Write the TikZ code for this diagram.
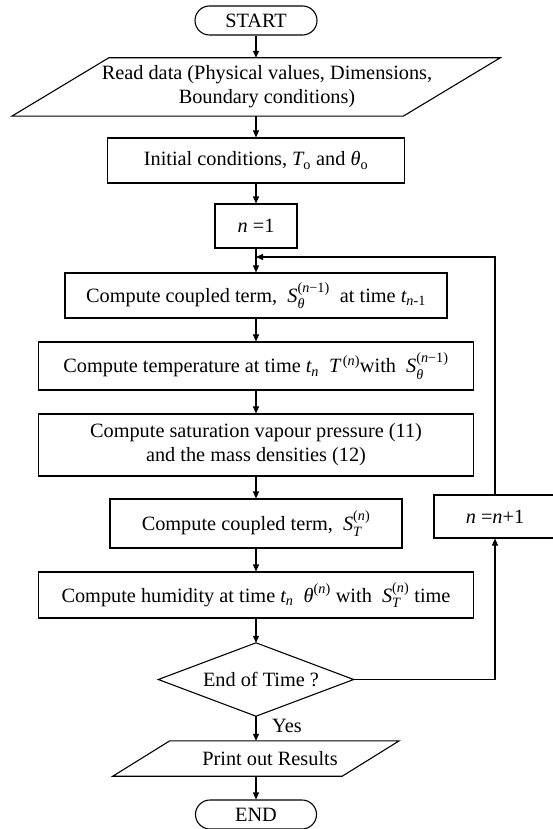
\documentclass[tikz,border=0pt]{standalone}
\usepackage{amsmath}
\usepackage{fontspec}
\setmainfont{Liberation Serif}
\usetikzlibrary{arrows.meta}
\newcommand{\fs}{\fontsize{20.3}{24}\selectfont}
\newcommand{\ti}[1]{\textit{#1}}
\newcommand{\tr}[1]{\textrm{#1}}
\begin{document}
\begin{tikzpicture}[x=1pt,y=-1pt,
  every node/.style={font=\fs, align=center, inner sep=0pt, text=black},
  box/.style={draw=black, line width=1.1pt},
  ln/.style={line width=1.1pt, draw=black},
  arr/.style={ln, -{Triangle[length=7pt,width=6pt]}}]
\useasboundingbox (0,0) rectangle (552,829);
% terminals and boxes
\node[box, rounded corners=14.5pt, minimum width=122pt, minimum height=29pt] (start) at (256,20.5) {START};
\node[minimum width=488pt, minimum height=58pt] (read) at (256,87)
  {\hspace*{22pt}Read data (Physical values, Dimensions,\\ \hspace*{22pt}Boundary conditions)};
\draw[ln] ([xshift=97pt]read.north west) -- (read.north east) -- ([xshift=-97pt]read.south east) -- (read.south west) -- cycle;
\node[box, minimum width=297pt, minimum height=45pt] (init) at (256,160.5)
  {Initial conditions, $\ti{T}_{\tr{o}}$ and $\ti{θ}_{\tr{o}}$};
\node[box, minimum width=82pt, minimum height=44pt] (n1) at (256,226) {\ti{n} =1};
\node[box, minimum width=382pt, minimum height=45pt] (cpl) at (256,295.5)
  {Compute coupled term,\enspace $\ti{S}^{\tr{(}\ti{n}\tr{−1)}}_{\ti{θ}}$\enspace at time $\ti{t}_{\ti{n}\tr{-1}}$};
\node[box, minimum width=435pt, minimum height=48pt] (temp) at (256,366)
  {Compute temperature at time $\ti{t}_{\ti{n}}$\enspace $\ti{T}^{\,\tr{(}\ti{n}\tr{)}}$with\enspace $\ti{S}^{\tr{(}\ti{n}\tr{−1)}}_{\ti{θ}}$};
\node[box, minimum width=435pt, minimum height=62pt] (sat) at (256,445)
  {Compute saturation vapour pressure (11)\\ and the mass densities (12)};
\node[box, minimum width=292pt, minimum height=49pt] (cst) at (256,523.5)
  {Compute coupled term,\enspace $\ti{S}^{\tr{(}\ti{n}\tr{)}}_{\ti{T}}$};
\node[box, minimum width=435pt, minimum height=46pt] (hum) at (256,595)
  {Compute humidity at time $\ti{t}_{\ti{n}}$\enspace $\ti{θ}^{\tr{(}\ti{n}\tr{)}}$ with\enspace $\ti{S}^{\tr{(}\ti{n}\tr{)}}_{\ti{T}}$ time};
\node[minimum width=195pt, minimum height=73pt] (dec) at (256,679.5) {\hspace*{10pt}End of Time ?};
\draw[ln] (dec.north) -- (dec.east) -- (dec.south) -- (dec.west) -- cycle;
\node[minimum width=286pt, minimum height=35pt] (print) at (256,758.5) {\hspace*{28pt}Print out Results};
\draw[ln] ([xshift=57pt]print.north west) -- (print.north east) -- ([xshift=-57pt]print.south east) -- (print.south west) -- cycle;
\node[box, rounded corners=14.5pt, minimum width=121pt, minimum height=29pt] (end) at (256,814.5) {END};
\node[box, minimum width=122pt, minimum height=43pt] (inc) at (495,516.5) {\ti{n} =\ti{n}+1};
\node[anchor=west] (yes) at (272,726) {Yes};
\coordinate (loopin) at (256,257);
% connectors
\draw[arr] (start) -- (read);
\draw[arr] (read) -- (init);
\draw[arr] (init) -- (n1);
\draw[arr] (n1) -- (cpl);
\draw[arr] (cpl) -- (temp);
\draw[arr] (temp) -- (sat);
\draw[arr] (sat) -- (cst);
\draw[arr] (cst) -- (hum);
\draw[arr] (hum) -- (dec.north);
\draw[arr] (dec.south) -- (print);
\draw[arr] (print) -- (end);
\draw[arr] (dec.east) -| (inc.south);
\draw[arr] (inc.north) |- (loopin);
\end{tikzpicture}
\end{document}
